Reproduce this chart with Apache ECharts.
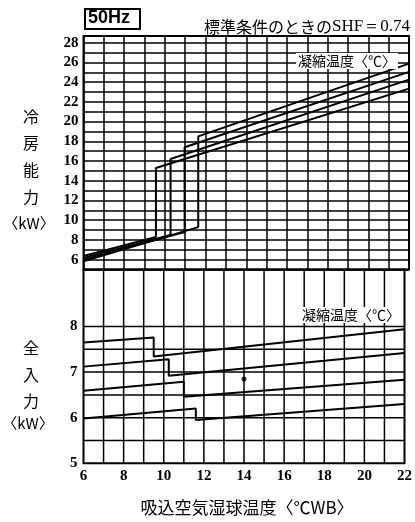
<!DOCTYPE html>
<html>
<head>
<meta charset="utf-8">
<script src="https://cdn.jsdelivr.net/npm/echarts@6/dist/echarts.min.js"></script>
<style>
html,body{margin:0;padding:0;background:#fff;}
#chart{width:415px;height:522px;}
</style>
</head>
<body>
<div id="chart"></div>
<script>
// ---- data ----
// Cooling capacity (kW) vs intake wet-bulb temp (°C WB), four condensing-temperature curves
const capA = [[6, 6.36], [9.56, 8.3], [9.56, 15.3], [22, 23.34]];
const capB = [[6, 6.18], [10.28, 8.5], [10.28, 16.2], [22, 24.26]];
const capC = [[6, 6.0], [10.97, 8.8], [10.97, 17.4], [22, 25.04]];
const capD = [[6, 5.82], [11.64, 9.3], [11.64, 18.5], [22, 25.88]];
// Total input power (kW)
const powA = [[6, 7.65], [9.5, 7.76], [9.5, 7.34], [22, 7.94]];
const powB = [[6, 7.12], [10.25, 7.28], [10.25, 6.92], [22, 7.42]];
const powC = [[6, 6.59], [11.0, 6.79], [11.0, 6.46], [22, 6.83]];
const powD = [[6, 5.98], [11.6, 6.2], [11.6, 5.95], [22, 6.30]];
const powDot = [[14, 6.85]];
// tick labels / grid levels
const xTicks = [6, 8, 10, 12, 14, 16, 18, 20, 22];
const xGridLevels = [7, 8, 9, 10, 11, 12, 13, 14, 15, 16, 17, 18, 19, 20, 21];
const capTicks = [6, 8, 10, 12, 14, 16, 18, 20, 22, 24, 26, 28];
const powTicks = [5, 6, 7, 8];
const powGridLevels = [5.5, 6, 6.5, 7, 7.5, 8];

// ---- chart ----
const chart = echarts.init(document.getElementById('chart'), null, {renderer: 'canvas'});
const L = 83.5, R = 6;
const POW_MIN = 5, POW_MAX = 9.25, POW_STEP = 0.5;
function gridLine() { return {show: true, lineStyle: {color: '#000', width: 1.5, type: 'solid'}}; }
function labelFont() { return {fontFamily: 'Liberation Serif', fontWeight: 'bold', fontSize: 15, color: '#000'}; }
const cjk = '"Noto Sans CJK JP", sans-serif';

function xAx(gi, showLabels, split) {
  return {
    type: 'value', gridIndex: gi, min: 6, max: 22, interval: 1,
    axisLine: {show: false}, axisTick: {show: false},
    splitLine: split ? gridLine() : {show: false},
    axisLabel: showLabels ? Object.assign({
      margin: 5,
      formatter: v => xTicks.indexOf(v) >= 0 ? String(v) : ''
    }, labelFont()) : {show: false}
  };
}
function lineSeries(data, xi, yi, w) {
  return {
    type: 'line', data: data, xAxisIndex: xi, yAxisIndex: yi,
    showSymbol: false, symbol: 'none', silent: true,
    lineStyle: {color: '#000', width: w || 2}, animation: false
  };
}
function vText(x, y, t, size) {
  return {type: 'text', x: x, y: y, z: 101,
    style: {text: t, font: size + 'px ' + cjk, fill: '#000', align: 'center', verticalAlign: 'middle'}};
}

// grid lines of the lower panel, drawn through the lower axes
const lowerVGrid = xGridLevels.map(x => {
  const s = lineSeries([[x, POW_MIN], [x, POW_MAX]], 1, 1, 1.5);
  s.z = 1;
  return s;
});
const lowerHGrid = powGridLevels.map(v => {
  const s = lineSeries([[6, v], [22, v]], 1, 1, 1.5);
  s.z = 1;
  return s;
});

const option = {
  backgroundColor: '#fff',
  animation: false,
  grid: [
    {left: L, right: R, top: 36, height: 233.5, show: true, borderColor: '#000', borderWidth: 2,
     backgroundColor: 'transparent'},
    {left: L, right: R, top: 269.5, height: 193.8, show: true, borderColor: '#000', borderWidth: 2,
     backgroundColor: 'transparent'}
  ],
  xAxis: [xAx(0, false, true), xAx(1, true, false)],
  yAxis: [
    {
      type: 'value', gridIndex: 0, min: 5, max: 28.68, interval: 1,
      axisLine: {show: false}, axisTick: {show: false}, splitLine: gridLine(),
      axisLabel: Object.assign({margin: 5, showMaxLabel: false,
        formatter: v => capTicks.indexOf(v) >= 0 ? String(v) : ''}, labelFont())
    },
    {
      type: 'value', gridIndex: 1, min: POW_MIN, max: POW_MAX, interval: POW_STEP,
      axisLine: {show: false}, axisTick: {show: false}, splitLine: {show: false},
      axisLabel: Object.assign({margin: 6, showMaxLabel: false,
        formatter: v => powTicks.indexOf(v) >= 0 ? String(v) : ''}, labelFont())
    }
  ],
  series: lowerVGrid.concat(lowerHGrid).concat([
    lineSeries(capA, 0, 0), lineSeries(capB, 0, 0), lineSeries(capC, 0, 0), lineSeries(capD, 0, 0),
    lineSeries(powA, 1, 1), lineSeries(powB, 1, 1), lineSeries(powC, 1, 1), lineSeries(powD, 1, 1),
    {type: 'scatter', data: powDot, xAxisIndex: 1, yAxisIndex: 1, symbolSize: 5,
     itemStyle: {color: '#000'}, silent: true, animation: false}
  ]),
  graphic: [
    {type: 'rect', left: 84, top: 8, shape: {width: 55, height: 20},
     style: {fill: '#fff', stroke: '#000', lineWidth: 2}, z: 100},
    {type: 'text', left: 88, top: 9, z: 101,
     style: {text: '50Hz', font: 'bold 18px "Liberation Sans", Arial, sans-serif', fill: '#000'}},
    {type: 'text', right: 5, top: 18, z: 101,
     style: {text: '{a|標準条件のときの}{b|SHF＝0.74}',
       rich: {
         a: {fontFamily: '"Noto Sans CJK JP"', fontSize: 16, fill: '#000', color: '#000'},
         b: {fontFamily: '"Liberation Serif"', fontSize: 17, fill: '#000', color: '#000'}
       }}},
    {type: 'text', left: 296, top: 53, z: 101,
     style: {text: '凝縮温度〈℃〉', font: '14px ' + cjk, fill: '#000', backgroundColor: '#fff', padding: [1, 2, 1, 2]}},
    {type: 'text', left: 300, top: 307, z: 101,
     style: {text: '凝縮温度〈℃〉', font: '14px ' + cjk, fill: '#000', backgroundColor: '#fff', padding: [1, 2, 1, 2]}},
    // y titles (vertical stack)
    vText(31, 117, '冷', 16), vText(31, 143, '房', 16), vText(31, 170, '能', 16), vText(31, 197, '力', 16),
    vText(29, 223, '〈kW〉', 15),
    vText(31, 348, '全', 16), vText(31, 375, '入', 16), vText(31, 401, '力', 16),
    vText(28, 423, '〈kW〉', 15),
    // x title
    vText(247, 508, '吸込空気湿球温度〈℃WB〉', 17)
  ]
};
chart.setOption(option);
</script>
</body>
</html>
